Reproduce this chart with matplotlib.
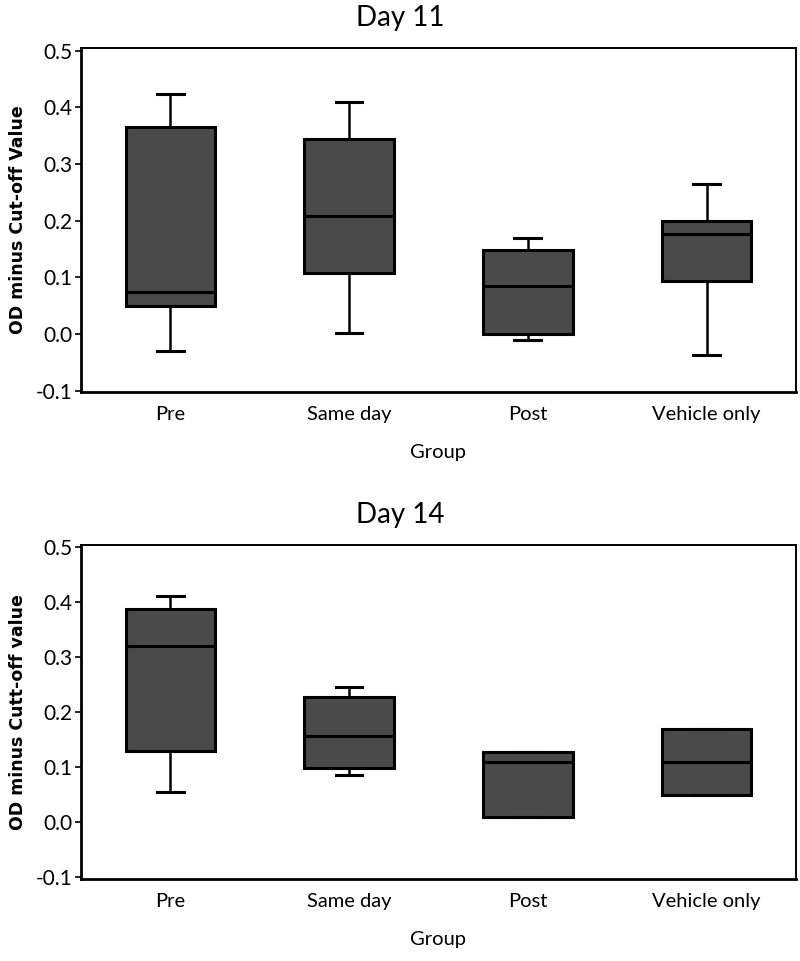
import matplotlib.pyplot as plt

groups = ["Pre", "Same day", "Post", "Vehicle only"]

# Day 11 box statistics
d11_low = [-0.030, 0.002, -0.010, -0.037]
d11_q1 = [0.050, 0.108, 0.000, 0.094]
d11_med = [0.075, 0.208, 0.085, 0.177]
d11_q3 = [0.366, 0.345, 0.148, 0.200]
d11_high = [0.424, 0.410, 0.170, 0.265]

# Day 14 box statistics
d14_low = [0.055, 0.085, 0.010, 0.050]
d14_q1 = [0.130, 0.098, 0.010, 0.050]
d14_med = [0.320, 0.156, 0.110, 0.110]
d14_q3 = [0.388, 0.227, 0.127, 0.170]
d14_high = [0.410, 0.245, 0.127, 0.170]

FONT = "Lato"


def make_stats(low, q1, med, q3, high):
    out = []
    for i in range(len(groups)):
        out.append(dict(whislo=low[i], q1=q1[i], med=med[i], q3=q3[i],
                        whishi=high[i], fliers=[], label=groups[i]))
    return out


def draw(ax, stats, title, ylabel, ylim):
    ax.bxp(stats, positions=range(1, len(groups) + 1), widths=0.5,
           patch_artist=True, showfliers=False,
           boxprops=dict(facecolor="#4a4a4a", edgecolor="black", linewidth=2.2),
           medianprops=dict(color="black", linewidth=2.2),
           whiskerprops=dict(color="black", linewidth=1.8),
           capprops=dict(color="black", linewidth=2.2), capwidths=0.15)
    ax.set_xlim(0.5, 4.5)
    ax.set_ylim(*ylim)
    ax.set_yticks([-0.1, 0.0, 0.1, 0.2, 0.3, 0.4, 0.5])
    ax.set_yticklabels(["-0.1", "0.0", "0.1", "0.2", "0.3", "0.4", "0.5"],
                       fontfamily=FONT, fontsize=15)
    ax.set_xticklabels(groups, fontfamily=FONT, fontsize=14.5)
    ax.tick_params(axis="x", length=0, pad=10)
    ax.tick_params(axis="y", length=4, width=1.2, pad=2)
    for s in ["left", "bottom"]:
        ax.spines[s].set_linewidth(2.0)
    for s in ["top", "right"]:
        ax.spines[s].set_linewidth(1.4)
    ax.set_xlabel("Group", fontfamily=FONT, fontsize=14.5, labelpad=15)
    ax.set_ylabel(ylabel, fontfamily="DejaVu Sans", fontweight="bold",
                  fontsize=12.5, labelpad=6)
    # title is centred on the figure, not the axes
    ax.set_title(title, fontfamily=FONT, fontsize=20, pad=16,
                 x=(0.5 - 0.101) / 0.894)


fig = plt.figure(figsize=(8, 9.61), dpi=100)
ax1 = fig.add_axes([0.101, 0.592, 0.894, 0.358])
ax2 = fig.add_axes([0.101, 0.0853, 0.894, 0.3476])

draw(ax1, make_stats(d11_low, d11_q1, d11_med, d11_q3, d11_high),
     "Day 11", "OD minus Cut-off Value", (-0.1023, 0.5048))
draw(ax2, make_stats(d14_low, d14_q1, d14_med, d14_q3, d14_high),
     "Day 14", "OD minus Cutt-off value", (-0.1036, 0.5036))

fig.savefig("out.png", dpi=100)
